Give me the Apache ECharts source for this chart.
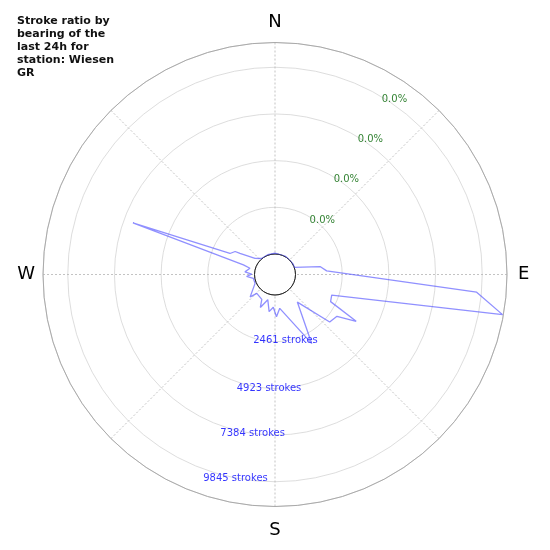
<!DOCTYPE html>
<html>
<head>
<meta charset="utf-8">
<script src="https://cdn.jsdelivr.net/npm/echarts@6/dist/echarts.min.js"></script>
<style>
  html, body { margin: 0; padding: 0; background: #fff; }
  #chart { width: 550px; height: 550px; }
</style>
</head>
<body>
<div id="chart"></div>
<script>
// stroke counts by compass bearing (degrees clockwise from north)
const bearings = [0, 30, 60, 70, 80, 86, 95, 100, 110, 116, 120, 124, 131, 141, 152,
  172, 178, 183, 189, 196, 204, 208, 224, 228, 246, 260, 266, 271, 275, 284, 287,
  290, 295, 300, 301, 309, 320, 340, 360];
const strokes = [40, 30, 20, 10, 1330, 1650, 9590, 11100, 2100, 2180, 3860, 2860, 2740, 790, 3050,
  720, 1150, 650, 900, 300, 820, 400, 300, 680, 70, 80, 420, 150, 510, 280, 660,
  6890, 1540, 1345, 1075, 275, 20, 30, 40];

const radiusTicks = [2461, 4923, 7384, 9845];
const pctLabels = ["0.0%", "0.0%", "0.0%", "0.0%"];
const compass = { 0: "N", 90: "E", 180: "S", 270: "W" };
const titleText = "Stroke ratio by\nbearing of the\nlast 24h for\nstation: Wiesen\nGR";

const tickStep = 2461.25;
const radiusMax = 11150;
// where the tick annotations sit around the dial
const pctBearing = 31;
const strokeBearings = [171, 183, 188, 191];

const chart = echarts.init(document.getElementById("chart"));

const CENTER = [275, 274.5];
const INNER = 20.5;

const option = {
  animation: false,
  backgroundColor: "#fff",
  textStyle: { fontFamily: "DejaVu Sans" },
  title: {
    text: titleText,
    left: 17,
    top: 15,
    padding: 0,
    textStyle: {
      fontFamily: "DejaVu Sans",
      fontSize: 11,
      fontWeight: "bold",
      lineHeight: 13,
      color: "#111",
    },
  },
  polar: [
    { center: CENTER, radius: [INNER, 232] },
    { center: CENTER, radius: [0, INNER] }, // the empty hub in the middle
  ],
  angleAxis: [
    {
      polarIndex: 0,
      type: "value",
      min: 0,
      max: 360,
      interval: 45,
      startAngle: 90,
      clockwise: true,
      axisLine: { lineStyle: { color: "#aaa", width: 1 } },
      axisTick: { show: false },
      axisLabel: {
        margin: 8,
        fontSize: 18,
        color: "#000",
        fontFamily: "DejaVu Sans",
        formatter: (v) => (compass[v] ? "{" + compass[v] + "|" + compass[v] + "}" : ""),
        rich: {
          N: { fontSize: 18, color: "#000", padding: [0, 0, 3, 0] },
          E: { fontSize: 18, color: "#000", padding: [0, 0, 0, 3] },
          S: { fontSize: 18, color: "#000", padding: [7, 0, 0, 0] },
          W: { fontSize: 18, color: "#000", padding: [0, 0, 0, 0] },
        },
      },
      splitLine: {
        show: true,
        lineStyle: { color: "#b4b4b4", type: [2, 2], width: 0.8 },
      },
    },
    {
      polarIndex: 1,
      type: "value",
      min: 0,
      max: 360,
      startAngle: 90,
      axisLine: { lineStyle: { color: "#222", width: 1 } },
      axisTick: { show: false },
      axisLabel: { show: false },
      splitLine: { show: false },
    },
  ],
  radiusAxis: [
    {
      polarIndex: 0,
      type: "value",
      min: 0,
      max: radiusMax,
      interval: tickStep,
      axisLine: { show: false },
      axisTick: { show: false },
      axisLabel: { show: false },
      splitLine: {
        show: true,
        lineStyle: { color: "#d4d4d4", width: 0.8 },
      },
    },
    {
      polarIndex: 1,
      type: "value",
      axisLine: { show: false },
      axisTick: { show: false },
      axisLabel: { show: false },
      splitLine: { show: false },
    },
  ],
  series: [
    {
      type: "line",
      coordinateSystem: "polar",
      polarIndex: 0,
      data: bearings.map((b, i) => [strokes[i], b]),
      symbol: "none",
      lineStyle: { color: "rgba(70,70,255,0.6)", width: 1.3 },
      z: 3,
    },
    {
      type: "scatter",
      coordinateSystem: "polar",
      polarIndex: 0,
      symbolSize: 0,
      silent: true,
      data: radiusTicks.map((v, i) => ({
        value: [v, pctBearing],
        name: pctLabels[i],
      })),
      label: {
        show: true,
        position: "right",
        distance: 0,
        offset: [0, 3],
        formatter: (p) => p.name,
        fontSize: 10,
        color: "#006400",
        fontFamily: "DejaVu Sans",
      },
    },
    {
      type: "scatter",
      coordinateSystem: "polar",
      polarIndex: 0,
      symbolSize: 0,
      silent: true,
      data: radiusTicks.map((v, i) => ({
        value: [v, strokeBearings[i]],
        name: v + " strokes",
      })),
      label: {
        show: true,
        position: "inside",
        formatter: (p) => p.name,
        fontSize: 10,
        color: "#0000ff",
        fontFamily: "DejaVu Sans",
      },
    },
  ],
};

chart.setOption(option);
window.addEventListener("resize", () => chart.resize());
</script>
</body>
</html>
